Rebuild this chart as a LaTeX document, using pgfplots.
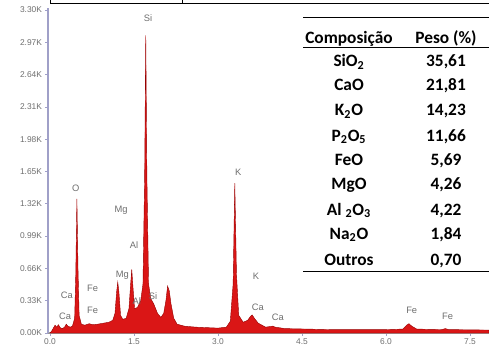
\documentclass[border=0pt]{standalone}
\usepackage{pgfplots}
\pgfplotsset{compat=1.18}
\usepackage{fontspec}
\setmainfont{Carlito}
\newfontfamily\lab{Liberation Sans}
\definecolor{specfill}{RGB}{218,22,22}
\definecolor{specline}{RGB}{150,0,0}
\definecolor{axcol}{RGB}{160,160,200}
\definecolor{labcol}{RGB}{110,110,110}
\begin{document}
\begin{tikzpicture}
\useasboundingbox (-36pt,-15.75pt) rectangle (330.75pt,249.75pt);
\begin{axis}[
  at={(0,0)}, anchor=south west,
  scale only axis, width=330.75pt, height=243.75pt,
  xmin=-0.036, xmax=7.84, ymin=0, ymax=3320,
  axis x line*=bottom, axis y line*=left,
  x axis line style={draw=gray!80, line width=0.8pt},
  y axis line style={draw=axcol, line width=1.2pt},
  xtick={0,1.5,3.0,4.5,6.0,7.5},
  xticklabels={0.0,1.5,3.0,4.5,6.0,7.5},
  ytick={0,330,660,990,1320,1650,1980,2310,2640,2970,3300},
  yticklabels={0.00K,0.33K,0.66K,0.99K,1.32K,1.65K,1.98K,2.31K,2.64K,2.97K,3.30K},
  tick style={draw=axcol, line width=0.5pt},
  major tick length=2pt,
  tick align=outside,
  ticklabel style={font=\lab\fontsize{6.3}{7}\selectfont, text=labcol},
  yticklabel style={xshift=1pt},
  xticklabel style={yshift=1pt},
  clip=false,
]
\addplot[fill=specfill, draw=specline, line width=0.3pt] coordinates {
(0.00,0) (0.03,20) (0.06,50) (0.09,80) (0.12,60) (0.15,85) (0.18,55) (0.22,45)
(0.26,60) (0.29,90) (0.32,70) (0.36,60) (0.40,70) (0.44,150) (0.46,600) (0.48,1370)
(0.50,650) (0.52,180) (0.56,90) (0.62,80) (0.70,95) (0.76,85) (0.85,90) (0.95,100)
(1.05,110) (1.12,130) (1.16,200) (1.19,420) (1.21,520) (1.23,420) (1.26,180) (1.30,140)
(1.36,150) (1.41,250) (1.44,500) (1.46,650) (1.48,480) (1.51,250) (1.56,260) (1.62,330)
(1.66,500) (1.69,1600) (1.71,3040) (1.73,1600) (1.76,500) (1.80,350) (1.85,300) (1.92,200)
(1.98,160) (2.03,200) (2.07,330) (2.10,480) (2.13,430) (2.16,300) (2.21,150) (2.27,90)
(2.40,70) (2.60,60) (2.80,55) (3.00,50) (3.15,60) (3.22,120) (3.27,500) (3.30,1530)
(3.33,600) (3.37,180) (3.45,110) (3.53,130) (3.58,170) (3.61,185) (3.65,150) (3.72,100)
(3.85,60) (3.98,70) (4.02,60) (4.20,45) (4.60,40) (5.00,35) (5.50,35) (6.00,35)
(6.30,40) (6.37,80) (6.41,95) (6.46,70) (6.55,40) (7.00,35) (7.06,45) (7.12,35) (7.84,30)
} \closedcycle;
\begin{scope}[every node/.style={font=\lab\fontsize{7}{8}\selectfont, text=labcol, inner sep=0pt}]
\node at (axis cs:1.75,3220) {Si};
\node at (axis cs:0.46,1480) {O};
\node at (axis cs:1.27,1255) {Mg};
\node at (axis cs:1.50,900) {Al};
\node at (axis cs:1.29,590) {Mg};
\node at (axis cs:1.55,330) {Al};
\node at (axis cs:1.84,380) {Si};
\node at (axis cs:3.36,1645) {K};
\node at (axis cs:3.68,580) {K};
\node at (axis cs:3.71,265) {Ca};
\node at (axis cs:4.07,165) {Ca};
\node at (axis cs:6.46,235) {Fe};
\node at (axis cs:7.10,175) {Fe};
\node at (axis cs:0.30,390) {Ca};
\node at (axis cs:0.76,460) {Fe};
\node at (axis cs:0.27,175) {Ca};
\node at (axis cs:0.76,235) {Fe};
\end{scope}
\end{axis}
% fragment of frame at the top
\draw[line width=0.6pt] (1.5pt,247.5pt) -- (330.75pt,247.5pt);
\draw[line width=0.6pt] (1.5pt,247.5pt) -- (1.5pt,249.75pt);
\draw[line width=0.6pt] (100.5pt,247.5pt) -- (100.5pt,249.75pt);
% table
\draw[line width=0.6pt] (191.25pt,237pt) -- (330.75pt,237pt);
\draw[line width=0.6pt] (191.25pt,214.5pt) -- (330.75pt,214.5pt);
\draw[line width=0.6pt] (191.25pt,46.5pt) -- (330.75pt,46.5pt);
\begin{scope}[every node/.style={font=\bfseries\fontsize{13}{15}\selectfont, anchor=base, inner sep=0pt}]
\node at (225.75pt,217pt) {Composição};
\node at (298.5pt,217pt) {Peso (\%)};
\node at (225.75pt,199.5pt) {SiO\textsubscript{2}};
\node at (298.5pt,199.5pt) {35,61};
\node at (225.75pt,181.5pt) {CaO};
\node at (298.5pt,181.5pt) {21,81};
\node at (225.75pt,162.75pt) {K\textsubscript{2}O};
\node at (298.5pt,162.75pt) {14,23};
\node at (225.75pt,144pt) {P\textsubscript{2}O\textsubscript{5}};
\node at (298.5pt,144pt) {11,66};
\node at (225.75pt,126pt) {FeO};
\node at (298.5pt,126pt) {5,69};
\node at (225.75pt,108pt) {MgO};
\node at (298.5pt,108pt) {4,26};
\node at (225.75pt,88.5pt) {Al \textsubscript{2}O\textsubscript{3}};
\node at (298.5pt,88.5pt) {4,22};
\node at (225.75pt,70.5pt) {Na\textsubscript{2}O};
\node at (298.5pt,70.5pt) {1,84};
\node at (225.75pt,51pt) {Outros};
\node at (298.5pt,51pt) {0,70};
\end{scope}
\end{tikzpicture}
\end{document}
